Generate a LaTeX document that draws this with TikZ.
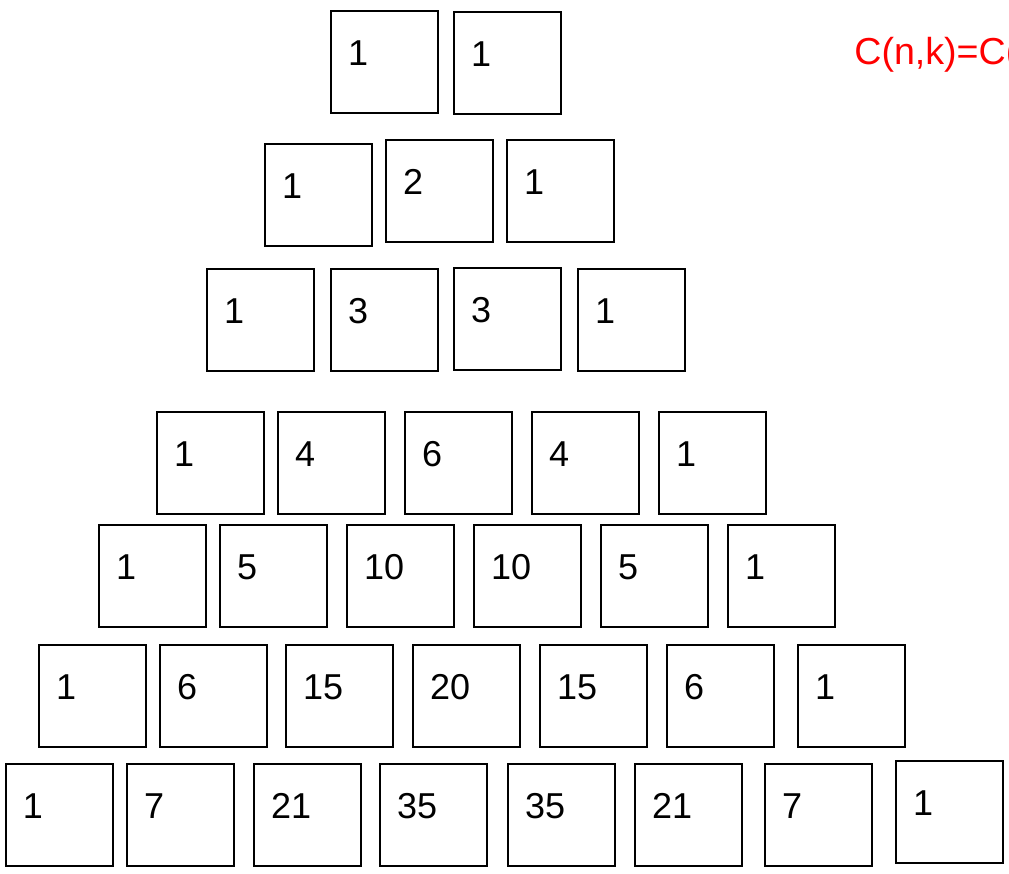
\documentclass[tikz,border=0pt]{standalone}
\usepackage{fontspec}
\setmainfont{Liberation Sans}

\begin{document}
\begin{tikzpicture}[x=0.5pt, y=-0.5pt, every node/.style={font=\fontsize{18}{22}\selectfont},
	cell/.style={draw, line width=1pt, anchor=north west, align=left, text width=36.5pt,
		inner xsep=8.5pt, inner ysep=0pt, text height=27.25pt, text depth=23.75pt}]
	\useasboundingbox (0,0) rectangle (1009,874);
	% row n=1
	\node[cell] (n1k0) at (330,10) {1};
	\node[cell] (n1k1) at (453,11) {1};
	% row n=2
	\node[cell] (n2k0) at (264,143) {1};
	\node[cell] (n2k1) at (385,139) {2};
	\node[cell] (n2k2) at (506,139) {1};
	% row n=3
	\node[cell] (n3k0) at (206,268) {1};
	\node[cell] (n3k1) at (330,268) {3};
	\node[cell] (n3k2) at (453,267) {3};
	\node[cell] (n3k3) at (577,268) {1};
	% row n=4
	\node[cell] (n4k0) at (156,411) {1};
	\node[cell] (n4k1) at (277,411) {4};
	\node[cell] (n4k2) at (404,411) {6};
	\node[cell] (n4k3) at (531,411) {4};
	\node[cell] (n4k4) at (658,411) {1};
	% row n=5
	\node[cell] (n5k0) at (98,524) {1};
	\node[cell] (n5k1) at (219,524) {5};
	\node[cell] (n5k2) at (346,524) {10};
	\node[cell] (n5k3) at (473,524) {10};
	\node[cell] (n5k4) at (600,524) {5};
	\node[cell] (n5k5) at (727,524) {1};
	% row n=6
	\node[cell] (n6k0) at (38,644) {1};
	\node[cell] (n6k1) at (159,644) {6};
	\node[cell] (n6k2) at (285,644) {15};
	\node[cell] (n6k3) at (412,644) {20};
	\node[cell] (n6k4) at (539,644) {15};
	\node[cell] (n6k5) at (666,644) {6};
	\node[cell] (n6k6) at (797,644) {1};
	% row n=7
	\node[cell] (n7k0) at (5,763) {1};
	\node[cell] (n7k1) at (126,763) {7};
	\node[cell] (n7k2) at (253,763) {21};
	\node[cell] (n7k3) at (379,763) {35};
	\node[cell] (n7k4) at (507,763) {35};
	\node[cell] (n7k5) at (634,763) {21};
	\node[cell] (n7k6) at (764,763) {7};
	\node[cell] (n7k7) at (895,760) {1};
	\node[red, anchor=base west, inner sep=0pt, font=\fontsize{18.8}{22}\selectfont] (rule) at (854,64) {C(n,k)=C(};
\end{tikzpicture}
\end{document}
